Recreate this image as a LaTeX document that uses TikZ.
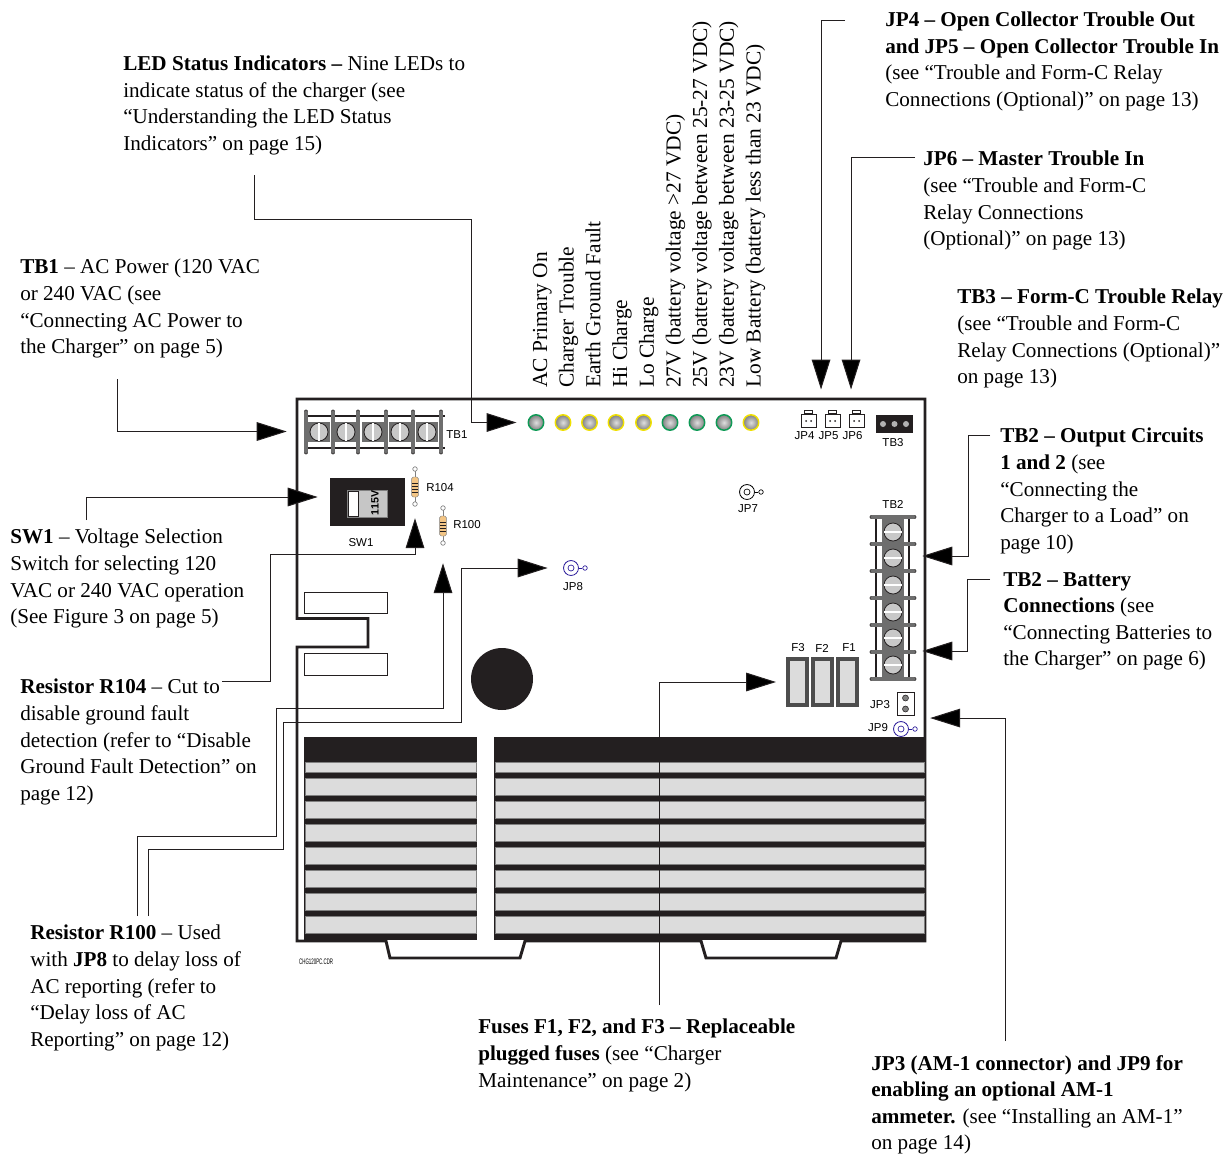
\documentclass[tikz,border=0pt]{standalone}
\usepackage{amssymb,amsmath,graphicx,color}
\usepackage{fontspec}
\setmainfont{Liberation Serif}
\newfontfamily\boardfont{Liberation Sans}
\usepackage{tikz}
\usetikzlibrary{arrows.meta}
\definecolor{boardink}{HTML}{231F20}
\definecolor{ledgreen}{HTML}{0E9A55}
\definecolor{ledyellow}{HTML}{F0E000}
\definecolor{finfill}{HTML}{DCDCDC}
\definecolor{lugfill}{HTML}{6E6E6E}
\definecolor{screwfill}{HTML}{C8C8C8}
\definecolor{restan}{HTML}{F3C585}
\definecolor{probeblue}{HTML}{2A1A9A}
\tikzset{
	notetext/.style={anchor=north west,inner sep=0pt,align=left,yshift=-0.75pt,font=\fontsize{15.85}{19.9}\selectfont},
	ledtext/.style={anchor=base west,inner sep=0pt,rotate=90,font=\fontsize{16.05}{19.9}\selectfont},
	silk/.style={inner sep=0pt,font=\boardfont\fontsize{8.6}{10}\selectfont},
	callout/.style={draw=boardink,line width=0.75pt,-{Triangle[length=22.5pt,width=14pt,fill=black]}},
	outline/.style={draw=boardink,line width=2.2pt,line join=miter},
	ledlamp/.style={circle,inner sep=0pt,minimum size=11.6pt,line width=1.1pt,inner color=gray!25,outer color=gray},
	lugbar/.style={draw=boardink,line width=0.6pt,double=lugfill,double distance=2.4pt,line cap=round},
	screw/.style={circle,draw=boardink,line width=0.6pt,fill=screwfill,inner sep=0pt,minimum size=13.5pt},
	lug/.style={draw=none,fill=lugfill,inner sep=0pt},
	fuse/.style={draw=lugfill!70!black,line width=3pt,fill=finfill,inner sep=0pt,minimum width=14.25pt,minimum height=34.5pt},
	resbody/.style={draw=gray,line width=0.3pt,fill=restan,rounded corners=1.2pt,inner sep=0pt,minimum width=5pt,minimum height=15pt},
	smallpad/.style={circle,draw=#1,line width=0.5pt,inner sep=0pt,minimum size=3.4pt},
	probe/.style={circle,draw=#1,line width=0.6pt,inner sep=0pt,minimum size=11.2pt},
	jumper/.style={draw=boardink,line width=0.5pt,fill=white,inner sep=0pt,minimum width=11pt,minimum height=10pt}
}
\begin{document}
\begin{tikzpicture}[x=0.75pt,y=-0.75pt]
	\useasboundingbox (0,0) rectangle (1231,1153);

	\node[notetext] (ledlabel) at (123,55) {\textbf{LED Status Indicators --} Nine LEDs to\\indicate status of the charger (see\\``Understanding the LED Status\\Indicators'' on page 15)};
	\node[notetext] (tbonelabel) at (20,258) {\textbf{TB1} -- AC Power (120 VAC\\or 240 VAC (see\\``Connecting AC Power to\\the Charger'' on page 5)};
	\node[notetext] (swonelabel) at (10,528) {\textbf{SW1} -- Voltage Selection\\Switch for selecting 120\\VAC or 240 VAC operation\\(See Figure 3 on page 5)};
	\node[notetext] (rfourlabel) at (20,678) {\textbf{Resistor R104} -- Cut to\\disable ground fault\\detection (refer to ``Disable\\Ground Fault Detection'' on\\page 12)};
	\node[notetext] (rzerolabel) at (30,924) {\textbf{Resistor R100} -- Used\\with \textbf{JP8} to delay loss of\\AC reporting (refer to\\``Delay loss of AC\\Reporting'' on page 12)};
	\node[notetext] (fuselabel) at (478,1018) {\textbf{Fuses F1, F2, and F3 -- Replaceable}\\\textbf{plugged fuses} (see ``Charger\\Maintenance'' on page 2)};
	\node[notetext] (jpthreelabel) at (871,1054) {\textbf{JP3 (AM-1 connector) and JP9 for}\\\textbf{enabling an optional AM-1}\\\textbf{ammeter.} (see ``Installing an AM-1''\\on page 14)};
	\node[notetext] (jpfourlabel) at (885,11) {\textbf{JP4 -- Open Collector Trouble Out}\\\textbf{and JP5 -- Open Collector Trouble In}\\(see ``Trouble and Form-C Relay\\Connections (Optional)'' on page 13)};
	\node[notetext] (jpsixlabel) at (923,150) {\textbf{JP6 -- Master Trouble In}\\(see ``Trouble and Form-C\\Relay Connections\\(Optional)'' on page 13)};
	\node[notetext] (tbthreelabel) at (957,288) {\textbf{TB3 -- Form-C Trouble Relay}\\(see ``Trouble and Form-C\\Relay Connections (Optional)''\\on page 13)};
	\node[notetext] (tbtwolabel) at (1000,427) {\textbf{TB2 -- Output Circuits}\\\textbf{1 and 2} (see\\``Connecting the\\Charger to a Load'' on\\page 10)};
	\node[notetext] (batlabel) at (1003,571) {\textbf{TB2 -- Battery}\\\textbf{Connections} (see\\``Connecting Batteries to\\the Charger'' on page 6)};

	\foreach \ledn/\ledname in {0/AC Primary On,1/Charger Trouble,2/Earth Ground Fault,3/Hi Charge,4/Lo Charge,5/27V (battery voltage >27 VDC),6/25V (battery voltage between 25-27 VDC),7/23V (battery voltage between 23-25 VDC),8/Low Battery (battery less than 23 VDC)}
		\node[ledtext] (ledname\ledn) at ({547+26.7*\ledn},388) {\ledname};

	\draw[outline] (297,399) -- (925,399) -- (925,941) -- (841,941) -- (836,958) -- (706,958) -- (701,941) -- (525,941) -- (520,958) -- (390,958) -- (386,941) -- (297,941) -- (297,647) -- (368,647) -- (368,618.5) -- (297,618.5) -- cycle;

	\fill[boardink] (304,737) rectangle (477,940);
	\fill[boardink] (494,737) rectangle (925,940);
	\foreach \finx/\finw in {305/476,495/924}{
		\draw[draw=gray,fill=finfill,line width=0.4pt] (\finx,762) rectangle (\finw,772);
		\foreach \finn in {0,...,6}
			\draw[draw=gray,fill=finfill,line width=0.4pt] (\finx,{778+23*\finn}) rectangle (\finw,{795.5+23*\finn});
	}

	\draw[draw=boardink,fill=white,line width=0.7pt] (304,592) rectangle (387,613);
	\draw[draw=boardink,fill=white,line width=0.7pt] (304,653) rectangle (387,675);
	\fill[boardink] (502,679) circle (31);

	\node[inner sep=0pt,minimum width=106.5pt,minimum height=32.25pt] (tbone) at (375,431.5) {};
	\draw[boardink,line width=1.5pt] (306,416) -- (445,416);
	\draw[boardink,line width=1.5pt] (306,448) -- (445,448);
	\foreach \lugx in {319,346,373,400,427}{
		\node[lug,minimum width=16pt,minimum height=15pt] at (\lugx,432) {};
		\node[screw] (tbonescrew\lugx) at (\lugx,432) {};
		\draw[white,line width=1pt] (\lugx,423) -- (\lugx,441);
	}
	\foreach \barx in {306,333,358,386,413,441}
		\draw[lugbar] (\barx,412) -- (\barx,452);

	\node[inner sep=0pt,minimum width=34.5pt,minimum height=121.5pt] (tbtwo) at (893,598) {};
	\draw[boardink,line width=1.3pt] (876,517) -- (876,679);
	\draw[boardink,line width=1.3pt] (909,517) -- (909,679);
	\foreach \lugy in {532,558,585,612,638,665}{
		\node[lug,minimum width=16pt,minimum height=19pt] at (893,\lugy) {};
		\node[screw] (tbtwoscrew\lugy) at (893,\lugy) {};
		\draw[white,line width=1pt] (884,\lugy) -- (902,\lugy);
	}
	\foreach \bary in {517,544,571,598,625,652,679}
		\draw[lugbar] (872,\bary) -- (914,\bary);

	\node[draw=none,fill=boardink,inner sep=0pt,minimum width=56.25pt,minimum height=36pt] (swone) at (367.5,502) {};
	\node[fill=gray!45,draw=gray,line width=0.3pt,inner sep=0pt,minimum width=30pt,minimum height=20.25pt] (swslide) at (367,503.5) {};
	\node[fill=white,draw=boardink,line width=0.3pt,inner sep=0pt,minimum width=7.5pt,minimum height=18.75pt] (swknob) at (353,503.5) {};
	\node[inner sep=0pt,rotate=90,font=\boardfont\bfseries\fontsize{8}{9}\selectfont] (swvolt) at (375,503) {115V};

	\foreach \resx/\resy/\resname in {415/487/rfour,443/526/rzero}{
		\draw[draw=gray,line width=0.6pt] (\resx,{\resy-18}) -- (\resx,{\resy+17});
		\node[smallpad=gray,fill=white] at (\resx,{\resy-18}) {};
		\node[smallpad=gray,fill=white] at (\resx,{\resy+17}) {};
		\node[resbody] (\resname) at (\resx,\resy) {};
		\foreach \stripe in {-4,-1,2,5}
			\draw[boardink,line width=0.7pt] ({\resx-3},{\resy+\stripe}) -- ({\resx+3},{\resy+\stripe});
	}

	\foreach \ledx/\ledcol [count=\ledn] in {536/ledgreen,563/ledyellow,589.5/ledyellow,616/ledyellow,643.5/ledyellow,670/ledgreen,697/ledgreen,724/ledgreen,751/ledyellow}
		\node[ledlamp,draw=\ledcol] (led\ledn) at (\ledx,422.5) {};

	\foreach \jpx/\jpname/\jplab/\jptxt in {808.5/jpfour/JP4/804.5,832.5/jpfive/JP5/828.5,856.5/jpsix/JP6/852.5}{
		\node[jumper] (\jpname) at (\jpx,420.5) {};
		\draw[draw=boardink,line width=0.5pt,fill=white] ({\jpx-4},413) rectangle ({\jpx+4},410.5);
		\fill[boardink] ({\jpx-2.5},421) circle (1);
		\fill[boardink] ({\jpx+2.5},421) circle (1);
		\node[silk] (\jpname text) at (\jptxt,435.5) {\jplab};
	}
	\node[fill=boardink,inner sep=0pt,minimum width=28pt,minimum height=13.5pt] (tbthree) at (894.5,424) {};
	\foreach \padx in {883,894.5,906}
		\fill[gray!60] (\padx,424) circle (3);

	\foreach \fusex/\fusename/\fusetxt/\fuselab in {797.5/fthree/F3/798,822.5/ftwo/F2/822,847.5/fone/F1/849}{
		\node[fuse] (\fusename) at (\fusex,682) {};
		\node[silk] (\fusename text) at (\fuselab,648) {\fusetxt};
	}

	\node[draw=boardink,line width=0.5pt,fill=white,inner sep=0pt,minimum width=12.5pt,minimum height=17pt] (jpthree) at (905.5,703.5) {};
	\foreach \pady in {698,709}
		\node[circle,draw=boardink,line width=0.4pt,fill=gray,inner sep=0pt,minimum size=4.5pt] at (905.5,\pady) {};

	\foreach \probex/\probey/\probecol/\probename in {747/492/black/jpseven,571/568/probeblue/jpeight,901/729/probeblue/jpnine}{
		\node[probe=\probecol] (\probename) at (\probex,\probey) {};
		\node[circle,draw=\probecol,line width=0.5pt,inner sep=0pt,minimum size=4.5pt] at (\probex,\probey) {};
		\node[smallpad=\probecol] (\probename stub) at ({\probex+14},\probey) {};
		\draw[draw=\probecol,line width=0.5pt] (\probename) -- (\probename stub);
	}

	\node[silk] (tbonetext) at (457,435) {TB1};
	\node[silk] (swonetext) at (361,543) {SW1};
	\node[silk,anchor=west] (rfourtext) at (426,488) {R104};
	\node[silk,anchor=west] (rzerotext) at (453,525) {R100};
	\node[silk] (jpeighttext) at (573,587) {JP8};
	\node[silk] (jpseventext) at (748,509) {JP7};
	\node[silk] (tbthreetext) at (893,443) {TB3};
	\node[silk] (tbtwotext) at (893,504) {TB2};
	\node[silk] (jpthreetext) at (880,705) {JP3};
	\node[silk] (jpninetext) at (878,728) {JP9};
	\node[inner sep=0pt,anchor=west,xscale=.55,font=\boardfont\fontsize{6}{7}\selectfont] (drawingcode) at (299,962) {CHG120PC.CDR};

	\coordinate (ledfoot) at (254,175);
	\coordinate (tbonefoot) at (117,379);
	\coordinate (swonefoot) at (86,520);
	\coordinate (rfourfoot) at (222,681);
	\coordinate (rzerofoot) at (137,916);
	\coordinate (jpeightfoot) at (148,916);
	\coordinate (fusefoot) at (659,1005);
	\coordinate (jpthreefoot) at (1005,1041);
	\coordinate (tbtwofoot) at (990,435);
	\coordinate (batfoot) at (990,579);
	\coordinate (jpfourfoot) at (845,20);
	\coordinate (jpsixfoot) at (915,157);

	\draw[callout,shorten >=8.25pt] (ledfoot) |- (471,219) |- (led1);
	\draw[callout,shorten >=12.75pt] (tbonefoot) |- (tbone);
	\draw[callout,shorten >=9pt] (swonefoot) |- ([yshift=3.75pt]swone.west);
	\draw[callout,shorten >=15.75pt] (rfourfoot) -| (270,554) -| (rfour);
	\draw[callout,shorten >=20.25pt] (rzerofoot) |- (276,836) |- (443,708) -- (rzero);
	\draw[callout,shorten >=11.6pt] (jpeightfoot) |- (283,849) |- (461,722) |- (jpeight);
	\draw[callout,shorten >=7.5pt] (fusefoot) |- (fthree);
	\draw[callout,shorten >=12pt] (jpthreefoot) |- ([yshift=-10.9pt]jpthree.east);
	\draw[callout,shorten >=4.5pt] (tbtwofoot) -| (968,500) |- ([yshift=31.5pt]tbtwo.east);
	\draw[callout,shorten >=4.5pt] (batfoot) -| (967,620) |- ([yshift=-39.75pt]tbtwo.east);
	\draw[callout,shorten >=18pt] (jpfourfoot) -| ([xshift=-8.6pt]jpfive.north);
	\draw[callout,shorten >=18pt] (jpsixfoot) -| ([xshift=-4.1pt]jpsix.north);
\end{tikzpicture}
\end{document}
